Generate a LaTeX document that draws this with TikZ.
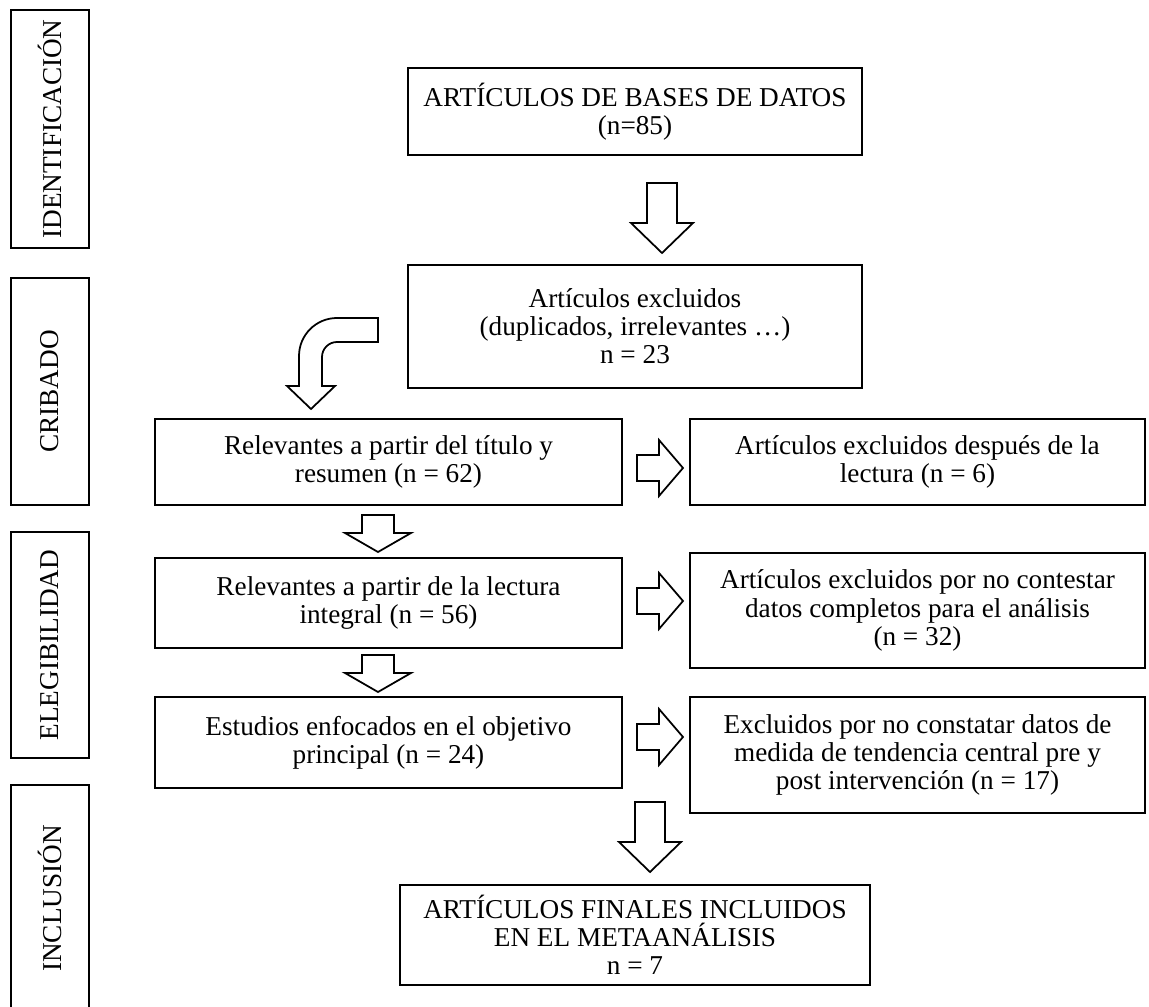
\documentclass[tikz,border=0pt]{standalone}
\usepackage{fontspec}
\setmainfont{Liberation Serif}
\begin{document}
\begin{tikzpicture}[x=0.02cm, y=-0.02cm,
    font=\fontsize{15.5}{16}\selectfont,
    box/.style={draw, line width=1.3pt, align=center, inner sep=2pt},
    phase/.style={draw, line width=1.3pt, rotate=90, minimum height=1.56cm},
    blockarrow/.style={draw, line width=1pt, fill=white},
    bigdown/.pic={\draw[blockarrow] (-15,0) -- (15,0) -- (15,40) -- (31,40) -- (0,70) -- (-31,40) -- (-15,40) -- cycle;},
    smalldown/.pic={\draw[blockarrow] (-16,0) -- (16,0) -- (16,18) -- (33,18) -- (0,37) -- (-33,18) -- (-16,18) -- cycle;},
    rightarr/.pic={\draw[blockarrow] (0,-13) -- (22,-13) -- (22,-28) -- (46,0) -- (22,28) -- (22,13) -- (0,13) -- cycle;}]
    \useasboundingbox (0,0) rectangle (1149,1007);

    \node[phase, minimum width=4.76cm] (ident) at (50,129) {IDENTIFICACIÓN};
    \node[phase, minimum width=4.54cm] (crib) at (50,391.5) {CRIBADO};
    \node[phase, minimum width=4.52cm] (eleg) at (50,645) {ELEGIBILIDAD};
    \node[phase, minimum width=4.54cm] (incl) at (50,898.5) {INCLUSIÓN};

    \node[box, minimum width=9.08cm, minimum height=1.74cm] (bases) at (635,111.5) {ARTÍCULOS DE BASES DE DATOS\\(n=85)};
    \node[box, minimum width=9.08cm, minimum height=2.46cm] (dupl) at (635,326.5) {Artículos excluidos\\(duplicados, irrelevantes …)\\n = 23};
    \node[box, minimum width=9.34cm, minimum height=1.72cm] (titulo) at (388.5,462) {Relevantes a partir del título y\\resumen (n = 62)};
    \node[box, minimum width=9.34cm, minimum height=1.80cm] (lectura) at (388.5,603) {Relevantes a partir de la lectura\\integral (n = 56)};
    \node[box, minimum width=9.34cm, minimum height=1.82cm] (objetivo) at (388.5,742.5) {Estudios enfocados en el objetivo\\principal (n = 24)};
    \node[box, minimum width=9.10cm, minimum height=1.72cm] (excl1) at (917.5,462) {Artículos excluidos después de la\\lectura (n = 6)};
    \node[box, minimum width=9.10cm, minimum height=2.30cm] (excl2) at (917.5,610.5) {Artículos excluidos por no contestar\\datos completos para el análisis\\(n = 32)};
    \node[box, minimum width=9.10cm, minimum height=2.32cm] (excl3) at (917.5,755) {Excluidos por no constatar datos de\\medida de tendencia central pre y\\post intervención (n = 17)};
    \node[box, minimum width=9.40cm, minimum height=2.00cm] (final) at (635,935) {ARTÍCULOS FINALES INCLUIDOS\\EN EL METAANÁLISIS\\n = 7};

    \pic at (662,183) {bigdown};
    \draw[blockarrow] (378,318) -- (337,318) .. controls (316,318) and (299,335) .. (299,356)
        -- (299,386) -- (287,386) -- (311,409) -- (335,386) -- (322,386) -- (322,357)
        .. controls (322,348.7) and (328.7,342) .. (337,342) -- (378,342) -- cycle;
    \pic at (378,515) {smalldown};
    \pic at (378,655) {smalldown};
    \pic at (637,468) {rightarr};
    \pic at (637,601) {rightarr};
    \pic at (637,737) {rightarr};
    \pic at (650,802) {bigdown};
\end{tikzpicture}
\end{document}
